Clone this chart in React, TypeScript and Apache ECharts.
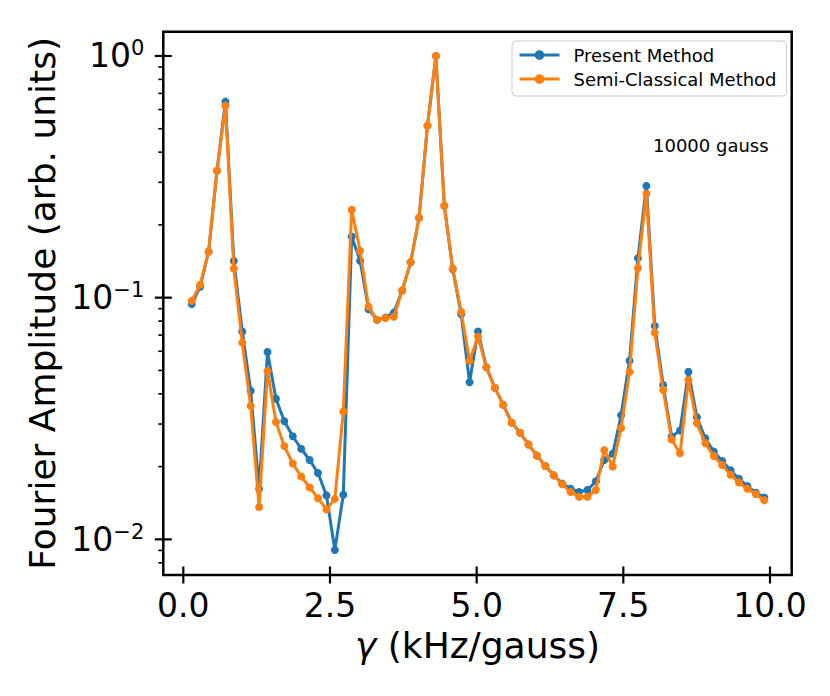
import React, { useEffect, useRef } from "react";
import * as echarts from "echarts";

// gamma (kHz/gauss) sample positions
const gammaValues = [
  0.144, 0.287, 0.431, 0.574, 0.718, 0.861, 1.005, 1.148, 1.292, 1.435,
  1.579, 1.722, 1.866, 2.009, 2.153, 2.296, 2.44, 2.583, 2.727, 2.87,
  3.014, 3.157, 3.301, 3.444, 3.588, 3.731, 3.875, 4.018, 4.162, 4.305,
  4.449, 4.592, 4.736, 4.879, 5.023, 5.166, 5.31, 5.453, 5.597, 5.74,
  5.884, 6.027, 6.171, 6.314, 6.458, 6.601, 6.745, 6.888, 7.032, 7.175,
  7.319, 7.462, 7.606, 7.749, 7.893, 8.036, 8.18, 8.323, 8.467, 8.61,
  8.754, 8.897, 9.041, 9.184, 9.328, 9.471, 9.615, 9.758, 9.902,
];

const presentMethod = [
  0.094, 0.111, 0.155, 0.335, 0.647, 0.142, 0.0724, 0.0412, 0.0162, 0.0596,
  0.0382, 0.0308, 0.0267, 0.0237, 0.0213, 0.0188, 0.0152, 0.00904, 0.0153, 0.179,
  0.142, 0.0895, 0.0809, 0.0827, 0.0867, 0.107, 0.14, 0.214, 0.515, 1.0,
  0.24, 0.131, 0.0854, 0.0447, 0.0724, 0.0515, 0.0424, 0.036, 0.0304, 0.0276,
  0.0247, 0.0222, 0.0201, 0.0184, 0.017, 0.0162, 0.0157, 0.016, 0.0174, 0.0213,
  0.0226, 0.0326, 0.0549, 0.1455, 0.29, 0.0764, 0.0435, 0.0266, 0.0282, 0.0494,
  0.032, 0.0262, 0.0231, 0.0211, 0.0193, 0.0178, 0.0166, 0.0156, 0.0149,
];

const semiClassical = [
  0.097, 0.113, 0.155, 0.335, 0.623, 0.132, 0.0651, 0.0356, 0.0136, 0.0497,
  0.0306, 0.0243, 0.0206, 0.0182, 0.0164, 0.0148, 0.0133, 0.0147, 0.0338, 0.231,
  0.156, 0.0918, 0.0809, 0.0824, 0.0834, 0.107, 0.14, 0.214, 0.515, 1.0,
  0.24, 0.132, 0.0873, 0.0547, 0.069, 0.0515, 0.0424, 0.036, 0.0304, 0.0276,
  0.0247, 0.0222, 0.0201, 0.0184, 0.0169, 0.0157, 0.015, 0.015, 0.016, 0.0234,
  0.02, 0.0289, 0.0493, 0.1327, 0.269, 0.0716, 0.0415, 0.0259, 0.0227, 0.0456,
  0.0302, 0.025, 0.0221, 0.0203, 0.0185, 0.0172, 0.0162, 0.0154, 0.0145,
];

const seriesNames = ["Present Method", "Semi-Classical Method"];
const xTickValues = [0, 2.5, 5, 7.5, 10];
const yTickValues = [0.01, 0.1, 1];
const yMinorTickValues = [
  0.008, 0.009, 0.02, 0.03, 0.04, 0.05, 0.06, 0.07, 0.08, 0.09,
  0.2, 0.3, 0.4, 0.5, 0.6, 0.7, 0.8, 0.9,
];
const annotationText = "10000 gauss";
const xAxisTitle = "{i|γ} (kHz/gauss)";
const yAxisTitle = "Fourier Amplitude (arb. units)";

const X_MIN = -0.341;
const X_MAX = 10.37;
const Y_MIN = 0.00712;
const Y_MAX = 1.26;

const FONT = "DejaVu Sans";
const BLUE = "#1f77b4";
const ORANGE = "#ff7f0e";

export default function App() {
  const ref = useRef<HTMLDivElement>(null);

  useEffect(() => {
    if (!ref.current) return;
    const chart = echarts.init(ref.current, null, { renderer: "svg" });

    const toPairs = (ys: number[]) => gammaValues.map((x, i) => [x, ys[i]]);

    const yTickData = [
      ...yTickValues.map((v) => [X_MIN, v, 1]),
      ...yMinorTickValues.map((v) => [X_MIN, v, 0]),
    ];
    const xTickData = xTickValues.map((v) => [v, Y_MIN, 1]);

    const tickSeries = (data: number[][], axis: "x" | "y") => ({
      type: "custom",
      name: "ticks-" + axis,
      silent: true,
      clip: false,
      z: 10,
      data,
      renderItem: (_params: any, api: any) => {
        const p = api.coord([api.value(0), api.value(1)]);
        const major = api.value(2) === 1;
        const outLen = major ? 8.5 : 5;
        const inLen = major ? 8.5 : 0;
        const shape =
          axis === "y"
            ? { x1: p[0] - outLen, y1: p[1], x2: p[0] + inLen, y2: p[1] }
            : { x1: p[0], y1: p[1] + outLen, x2: p[0], y2: p[1] - inLen };
        return {
          type: "line",
          shape,
          style: { stroke: "#000", lineWidth: major ? 2.2 : 1.6 },
        };
      },
    });

    const lineSeries = (name: string, ys: number[], color: string, z: number) => ({
      type: "line",
      name,
      data: toPairs(ys),
      symbol: "circle",
      symbolSize: 8,
      showSymbol: true,
      z,
      lineStyle: { color, width: 3 },
      itemStyle: { color, borderWidth: 0 },
      emphasis: { disabled: true },
    });

    chart.setOption({
      animation: false,
      backgroundColor: "#fff",
      grid: {
        left: 163.3,
        right: 38.3,
        top: 31.7,
        bottom: 121,
        show: true,
        borderColor: "#000",
        borderWidth: 2.5,
        backgroundColor: "transparent",
      },
      legend: {
        data: seriesNames,
        orient: "vertical",
        left: 512,
        top: 41,
        itemWidth: 40,
        itemHeight: 12,
        itemGap: 6,
        padding: [5, 10, 8, 6],
        backgroundColor: "rgba(255,255,255,0.8)",
        borderColor: "#cccccc",
        borderWidth: 1,
        borderRadius: 4,
        lineStyle: { width: 3 },
        textStyle: {
          fontFamily: FONT,
          fontSize: 18,
          color: "#000",
          padding: [0, 0, 0, 9],
        },
      },
      graphic: [
        {
          type: "text",
          left: 653,
          top: 136,
          style: {
            text: annotationText,
            font: `18px "${FONT}"`,
            fill: "#000",
          },
        },
      ],
      xAxis: {
        type: "value",
        min: X_MIN,
        max: X_MAX,
        name: xAxisTitle,
        nameLocation: "middle",
        nameGap: 52,
        nameTextStyle: {
          fontFamily: FONT,
          fontSize: 36,
          color: "#000",
          rich: { i: { fontFamily: FONT, fontSize: 36, fontStyle: "italic", color: "#000" } },
        },
        axisLine: { show: false },
        axisTick: { show: false },
        splitLine: { show: false },
        axisLabel: {
          customValues: xTickValues,
          formatter: (v: number) => v.toFixed(1),
          fontFamily: FONT,
          fontSize: 33,
          color: "#000",
          margin: 14,
        },
      },
      yAxis: {
        type: "log",
        logBase: 10,
        min: Y_MIN,
        max: Y_MAX,
        name: yAxisTitle,
        nameLocation: "middle",
        nameGap: 103,
        nameTextStyle: { fontFamily: FONT, fontSize: 36, color: "#000" },
        axisLine: { show: false },
        axisTick: { show: false },
        splitLine: { show: false },
        minorTick: { show: false },
        axisLabel: {
          customValues: yTickValues,
          margin: 19,
          formatter: (v: number) => {
            const e = Math.round(Math.log10(v));
            const exp = e < 0 ? "\u2212" + -e : String(e);
            return `{b|10}{s|${exp}}`;
          },
          rich: {
            b: { fontFamily: FONT, fontSize: 33, lineHeight: 36, color: "#000" },
            s: { fontFamily: FONT, fontSize: 21, lineHeight: 21, verticalAlign: "top", color: "#000" },
          },
        },
      },
      series: [
        lineSeries(seriesNames[0], presentMethod, BLUE, 3),
        lineSeries(seriesNames[1], semiClassical, ORANGE, 4),
        tickSeries(yTickData, "y"),
        tickSeries(xTickData, "x"),
      ],
    });

    return () => chart.dispose();
  }, []);

  return (
    <div
      ref={ref}
      style={{ position: "fixed", left: 0, top: 0, width: 830, height: 696, background: "#fff" }}
    />
  );
}
